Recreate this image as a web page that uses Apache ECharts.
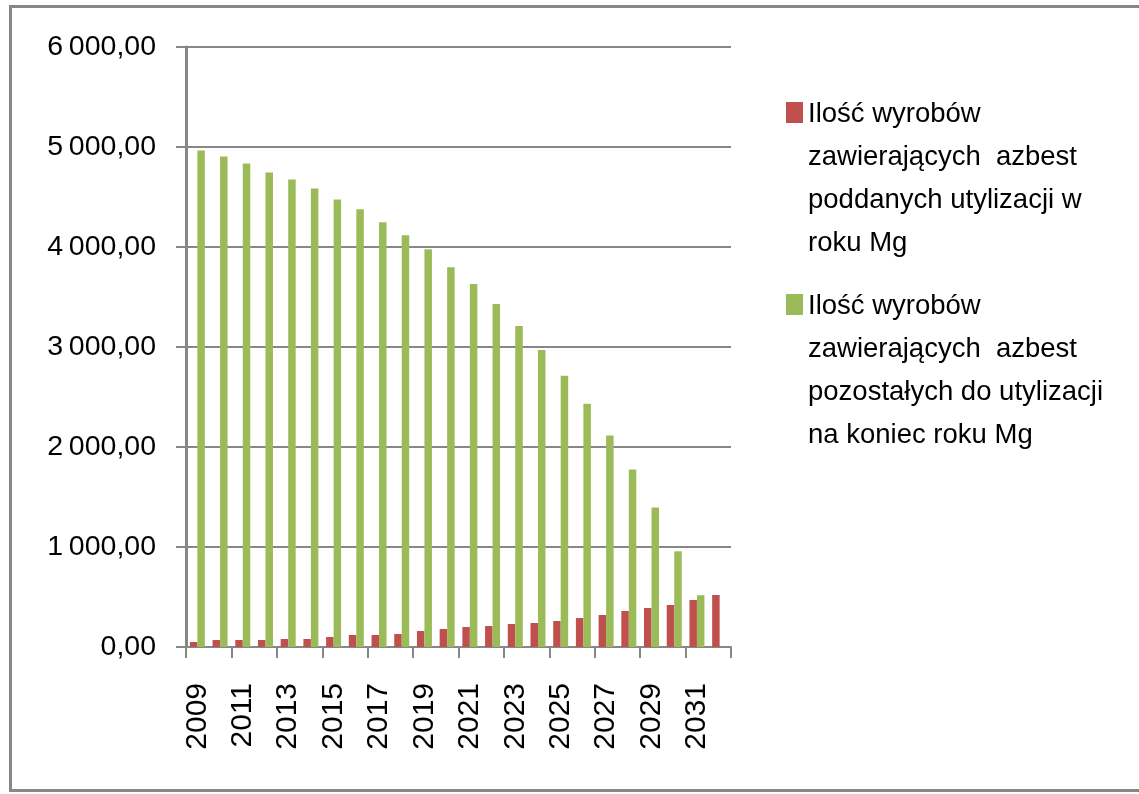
<!DOCTYPE html>
<html>
<head>
<meta charset="utf-8">
<script src="https://cdn.jsdelivr.net/npm/echarts@6/dist/echarts.min.js"></script>
<style>
html,body{margin:0;padding:0;background:#fff;}
#chart{width:1139px;height:794px;}
</style>
</head>
<body>
<div id="chart"></div>
<script>
const categories = ['2009','2010','2011','2012','2013','2014','2015','2016','2017','2018','2019','2020','2021','2022','2023','2024','2025','2026','2027','2028','2029','2030','2031','2032'];
const seriesNames = [
  'Ilość wyrobów\nzawierających  azbest\npoddanych utylizacji w\nroku Mg',
  'Ilość wyrobów\nzawierających  azbest\npozostałych do utylizacji\nna koniec roku Mg'
];
const utilized = [50,70,70,70,80,80,100,120,120,130,160,180,200,210,230,240,260,290,320,360,390,420,470,520];
const remaining = [4965,4905,4836,4746,4676,4586,4476,4377,4247,4118,3978,3798,3629,3430,3210,2971,2712,2433,2114,1775,1396,957,518,0];
const yTicks = {min:0, max:6000, interval:1000};

function fmt(v){
  const s = String(Math.round(v));
  const t = s.length > 3 ? s.slice(0, s.length-3) + '\u2009' + s.slice(-3) : s;
  return t + ',00';
}

const chart = echarts.init(document.getElementById('chart'), null, {renderer:'canvas'});
const gray = '#878787';
const font = 'Liberation Sans';
chart.setOption({
  animation:false,
  backgroundColor:'#ffffff',
  graphic:[{
    type:'rect', silent:true,
    shape:{x:10.5, y:6.5, width:1200, height:784},
    style:{fill:'none', stroke:gray, lineWidth:3}
  }],
  grid:{left:186, right:408, top:47, bottom:147, containLabel:false},
  legend:{
    orient:'vertical', left:786, top:93, padding:0,
    itemWidth:17, itemHeight:172, itemGap:20, itemTextGap:12,
    icon:'path://M0,0h0.01v0.01h-0.01z M0,9h17v21h-17z M0,171.99h0.01v0.01h-0.01z',
    textStyle:{fontFamily:font, fontSize:27.5, lineHeight:43, color:'#000'},
    data:seriesNames
  },
  xAxis:{
    type:'category', data:categories,
    axisLine:{lineStyle:{color:gray, width:2}},
    axisTick:{show:true, length:11, lineStyle:{color:gray, width:2}},
    axisLabel:{rotate:90, interval:1, margin:36, fontFamily:font, fontSize:30, color:'#000'}
  },
  yAxis:{
    type:'value', min:yTicks.min, max:yTicks.max, interval:yTicks.interval,
    axisLine:{show:true, lineStyle:{color:gray, width:3}},
    axisTick:{show:true, length:10, lineStyle:{color:gray, width:2}},
    splitLine:{show:true, lineStyle:{color:gray, width:2}},
    axisLabel:{margin:30, fontFamily:font, fontSize:28.5, color:'#000', formatter:fmt}
  },
  series:[
    {name:seriesNames[0], type:'bar', data:utilized, barWidth:'33%', barGap:'0%', itemStyle:{color:'#C0504D'}},
    {name:seriesNames[1], type:'bar', data:remaining, barWidth:'33%', barGap:'0%', itemStyle:{color:'#9BBB59'}}
  ]
});
</script>
</body>
</html>
